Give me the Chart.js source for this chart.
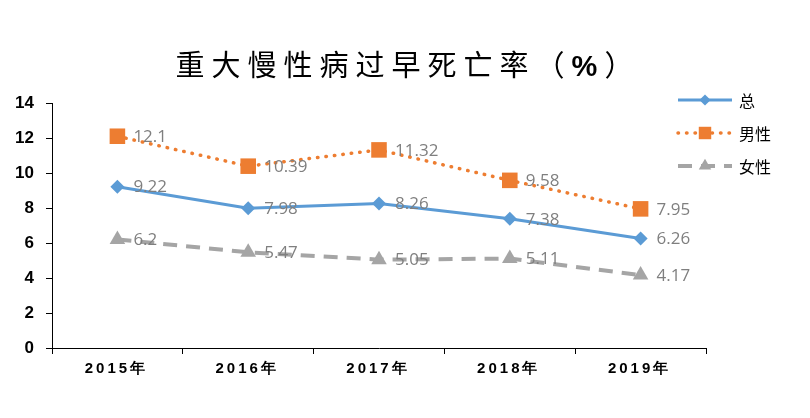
<!DOCTYPE html>
<html>
<head>
<meta charset="utf-8">
<script src="https://cdn.jsdelivr.net/npm/chart.js@4.4.1/dist/chart.umd.min.js"></script>
<style>
  html, body { margin: 0; padding: 0; background: #fff; }
  #wrap { position: relative; width: 810px; height: 418px; }
  #title {
    position: absolute; left: 0; top: 45px; width: 810px; text-align: center;
    font-family: "Noto Sans CJK SC", sans-serif; font-size: 29px; letter-spacing: 7px;
    color: #000; line-height: 36px; padding-left: 6px; box-sizing: border-box;
  }
  #title b { font-family: "Liberation Sans", Arial, sans-serif; font-weight: bold; }
</style>
</head>
<body>
<div id="wrap">
  <div id="title">重大慢性病过早死亡率（<b>%</b>）</div>
  <canvas id="chart" width="810" height="418"></canvas>
</div>
<script>
const years = ['2015年', '2016年', '2017年', '2018年', '2019年'];
const totalRate = [9.22, 7.98, 8.26, 7.38, 6.26];
const maleRate = [12.1, 10.39, 11.32, 9.58, 7.95];
const femaleRate = [6.2, 5.47, 5.05, 5.11, 4.17];
const yTicks = [0, 2, 4, 6, 8, 10, 12, 14];

// 数据标签（点右侧）
const valueLabels = {
  id: 'valueLabels',
  afterDatasetsDraw(chart) {
    const ctx = chart.ctx;
    ctx.save();
    ctx.font = '17px "Open Sans", "Liberation Sans", sans-serif';
    ctx.fillStyle = '#7f7f7f';
    ctx.textAlign = 'left';
    ctx.textBaseline = 'middle';
    chart.data.datasets.forEach((ds, i) => {
      chart.getDatasetMeta(i).data.forEach((pt, j) => {
        ctx.fillText(String(ds.data[j]), pt.x + 16, pt.y + 1);
      });
    });
    ctx.restore();
  }
};

// x 轴标签，字间距较宽
const spacedXLabels = {
  id: 'spacedXLabels',
  afterDraw(chart) {
    const ctx = chart.ctx;
    const xs = chart.scales.x;
    ctx.save();
    ctx.font = 'bold 15px "Liberation Sans", Arial, sans-serif';
    ctx.letterSpacing = '3px';
    ctx.fillStyle = '#000';
    ctx.textAlign = 'center';
    ctx.textBaseline = 'middle';
    chart.data.labels.forEach((lab, i) => {
      ctx.fillText(lab, xs.getPixelForTick(i) - 1, xs.top + 21);
    });
    ctx.restore();
  }
};

// 右上角图例
const sideLegend = {
  id: 'sideLegend',
  afterDraw(chart) {
    const ctx = chart.ctx;
    const x0 = 678, x1 = 732;
    chart.data.datasets.forEach((ds, i) => {
      const y = 100 + i * 33;
      ctx.save();
      ctx.strokeStyle = ds.borderColor;
      ctx.lineWidth = ds.borderWidth;
      ctx.lineCap = ds.borderCapStyle || 'butt';
      ctx.setLineDash(ds.borderDash || []);
      ctx.beginPath();
      ctx.moveTo(x0, y);
      ctx.lineTo(x1, y);
      ctx.stroke();
      ctx.setLineDash([]);
      ctx.fillStyle = ds.pointBackgroundColor;
      ctx.lineWidth = 0.01;
      Chart.helpers.drawPoint(ctx, {
        pointStyle: ds.pointStyle, radius: ds.pointRadius * 0.8, rotation: 0, borderWidth: 0
      }, (x0 + x1) / 2, y);
      ctx.fillStyle = '#000';
      ctx.font = '16px "Noto Sans CJK SC", sans-serif';
      ctx.textBaseline = 'middle';
      ctx.fillText(ds.label, 739, y + 1);
      ctx.restore();
    });
  }
};

new Chart(document.getElementById('chart'), {
  type: 'line',
  data: {
    labels: years,
    datasets: [
      {
        label: '总', data: totalRate,
        borderColor: '#5b9bd5', backgroundColor: '#5b9bd5',
        pointBackgroundColor: '#5b9bd5', pointBorderWidth: 0,
        borderWidth: 3, pointStyle: 'rectRot', pointRadius: 7, pointHoverRadius: 7
      },
      {
        label: '男性', data: maleRate,
        borderColor: '#ed7d31', backgroundColor: '#ed7d31',
        pointBackgroundColor: '#ed7d31', pointBorderWidth: 0,
        borderWidth: 3.5, borderDash: [0.5, 8], borderCapStyle: 'round',
        pointStyle: 'rect', pointRadius: 11, pointHoverRadius: 11
      },
      {
        label: '女性', data: femaleRate,
        borderColor: '#a5a5a5', backgroundColor: '#a5a5a5',
        pointBackgroundColor: '#a5a5a5', pointBorderWidth: 0,
        borderWidth: 4, borderDash: [14, 9],
        pointStyle: 'triangle', pointRadius: 9, pointHoverRadius: 9
      }
    ]
  },
  options: {
    responsive: false,
    animation: false,
    layout: { padding: { top: 103, right: 104, left: 0, bottom: 0 } },
    plugins: {
      legend: { display: false },
      tooltip: { enabled: false }
    },
    scales: {
      x: {
        offset: true,
        grid: { offset: true, drawOnChartArea: false, drawTicks: true, tickLength: 6, color: '#000' },
        border: { color: '#000', width: 1 },
        ticks: { display: false },
        afterFit(scale) { scale.height = 70; }
      },
      y: {
        min: 0, max: 14,
        afterBuildTicks(scale) { scale.ticks = yTicks.map(v => ({ value: v })); },
        grid: { drawOnChartArea: false, drawTicks: true, tickLength: 6, color: '#000' },
        border: { color: '#000', width: 1 },
        ticks: {
          color: '#000', padding: 12,
          font: { family: '"Liberation Sans", Arial, sans-serif', size: 17, weight: 'bold' }
        },
        afterFit(scale) { scale.width = 52; }
      }
    }
  },
  plugins: [valueLabels, spacedXLabels, sideLegend]
});
</script>
</body>
</html>
